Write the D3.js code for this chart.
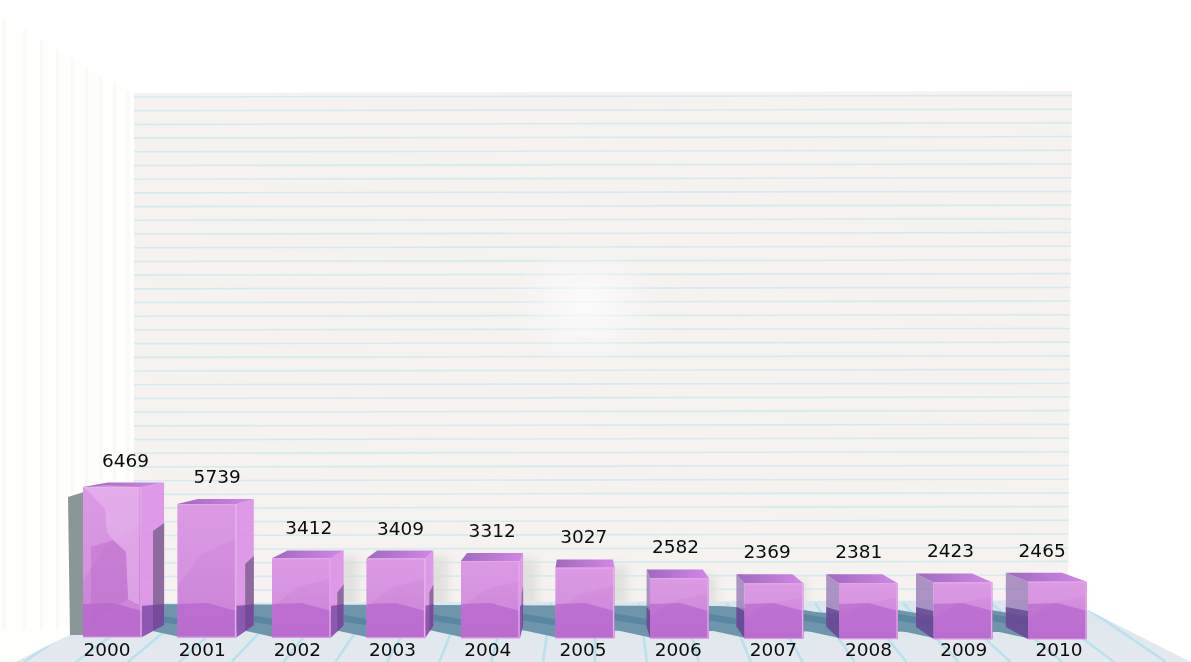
<!DOCTYPE html>
<html>
<head>
<meta charset="utf-8">
<script src="https://cdn.jsdelivr.net/npm/d3@7"></script>
<style>
  html, body { margin: 0; padding: 0; background: #fff; overflow: hidden; }
  text { font-family: "DejaVu Sans", sans-serif; font-size: 18.5px; fill: #0c0c0c; }
  filter { color-interpolation-filters: sRGB; }
</style>
</head>
<body>
<svg id="chart" width="1191" height="662"></svg>
<script>
//DATA
const years = [2000, 2001, 2002, 2003, 2004, 2005, 2006, 2007, 2008, 2009, 2010];
const values = [6469, 5739, 3412, 3409, 3312, 3027, 2582, 2369, 2381, 2423, 2465];

//SET CONSTANTS
const vanish = {x: 583, y: 400};
const depth = 0.05;
const barWidth = 59;
const wallTop = 92;
const floorBack = 603;

var xScale = d3.scaleLinear().domain([2000, 2010]).range([83, 1028]);
var labelScale = d3.scaleLinear().domain([2000, 2010]).range([107, 1059]);
var heightScale = d3.scaleLinear().domain([0, 6469]).range([0, 150]);
var baseScale = d3.scaleLinear().domain([2000, 2010]).range([637, 639]);
var wallScale = d3.scaleLinear().domain([0, 37]).range([97, 604]);
var sideScale = d3.scalePow().exponent(0.86).domain([0, 8]).range([4, 128]);

//push a point back toward the vanishing point
function back(p) {
  return [p[0] + depth * (vanish.x - p[0]), p[1] + depth * (vanish.y - p[1])];
}
function poly(p) {
  return p.map((d) => d[0].toFixed(1) + "," + d[1].toFixed(1)).join(" ");
}

var chart = d3.select("#chart");
var defs = chart.append("defs");

defs.append("filter").attr("id", "soft")
  .append("feGaussianBlur").attr("stdDeviation", 0.55);
defs.append("filter").attr("id", "roomSoft")
  .attr("x", 0).attr("y", 0).attr("width", 1).attr("height", 1)
  .append("feGaussianBlur").attr("stdDeviation", 0.7);
defs.append("filter").attr("id", "blur")
  .attr("x", "-50%").attr("width", "200%")
  .append("feGaussianBlur").attr("stdDeviation", 5);

var glow = defs.append("radialGradient").attr("id", "glow");
glow.append("stop").attr("offset", "0%").attr("stop-color", "#fff").attr("stop-opacity", 0.7);
glow.append("stop").attr("offset", "100%").attr("stop-color", "#fff").attr("stop-opacity", 0);

var frontGrad = defs.append("linearGradient").attr("id", "front")
  .attr("x1", 0).attr("y1", 0).attr("x2", 0).attr("y2", 1);
frontGrad.append("stop").attr("offset", "0%").attr("stop-color", "#d994e2");
frontGrad.append("stop").attr("offset", "100%").attr("stop-color", "#c983d6");

var topGrad = defs.append("linearGradient").attr("id", "topFace");
topGrad.append("stop").attr("offset", "0%").attr("stop-color", "#9f69bf");
topGrad.append("stop").attr("offset", "100%").attr("stop-color", "#d387e6");

var floorGrad = defs.append("linearGradient").attr("id", "floor")
  .attr("x1", 0).attr("y1", 0).attr("x2", 0).attr("y2", 1);
floorGrad.append("stop").attr("offset", "0%").attr("stop-color", "#dbe6ec");
floorGrad.append("stop").attr("offset", "100%").attr("stop-color", "#e4e9ef");

defs.append("clipPath").attr("id", "floorClip").append("polygon")
  .attr("points", poly([[134, floorBack], [1068, floorBack - 3], [1191, 662], [15, 662]]));
defs.append("clipPath").attr("id", "wallClip").append("polygon")
  .attr("points", poly([[134, wallTop + 1], [1072, wallTop - 1], [1068, floorBack - 3], [134, floorBack]]));

var room = chart.append("g").attr("filter", "url(#roomSoft)");

//left wall
room.append("polygon")
  .attr("points", poly([[0, 14], [134, 93], [134, floorBack], [15, 662], [0, 662]]))
  .attr("fill", "#fffefc");
room.selectAll(".wallLine").data(d3.range(0, 9)).enter().append("line")
  .attr("x1", (d) => sideScale(d))
  .attr("x2", (d) => sideScale(d))
  .attr("y1", (d) => 16 + 0.59 * sideScale(d))
  .attr("y2", 630)
  .attr("stroke", "#f8faf8")
  .attr("stroke-width", 3);

//back wall
room.append("polygon")
  .attr("points", poly([[134, wallTop + 1], [1072, wallTop - 1], [1068, floorBack - 3], [134, floorBack]]))
  .attr("fill", "#f5f2f0");
room.append("g").attr("clip-path", "url(#wallClip)")
  .selectAll("line").data(d3.range(0, 38)).enter().append("line")
  .attr("x1", 134)
  .attr("x2", 1072)
  .attr("y1", (d) => wallScale(d))
  .attr("y2", (d) => wallScale(d) - 1.5)
  .attr("stroke", "#d6ebf0")
  .attr("stroke-width", 1.6);
room.append("ellipse")
  .attr("cx", 585).attr("cy", 305).attr("rx", 75).attr("ry", 65)
  .attr("fill", "url(#glow)");

//soft bar shadows on the wall
room.append("g").attr("clip-path", "url(#wallClip)").attr("filter", "url(#blur)")
  .selectAll("rect").data(years.slice(2, 8)).enter().append("rect")
  .attr("x", (d) => back([xScale(d) + barWidth, 0])[0] - 8)
  .attr("y", (d, i) => baseScale(d) - heightScale(values[i + 2]) - 2)
  .attr("width", 22)
  .attr("height", (d, i) => heightScale(values[i + 2]) - 20)
  .attr("fill", "#d8d8d6")
  .attr("opacity", 0.7);

//floor
var floor = room.append("g");
floor.append("polygon")
  .attr("points", poly([[134, floorBack], [1068, floorBack - 3], [1191, 662], [15, 662]]))
  .attr("fill", "url(#floor)");
floor.append("g").attr("clip-path", "url(#floorClip)")
  .selectAll("line").data(d3.range(-14, 15)).enter().append("line")
  .attr("x1", (d) => vanish.x + 12 + d * 44)
  .attr("y1", floorBack)
  .attr("x2", (d) => vanish.x + 12 + d * 44 * 1.18)
  .attr("y2", 662)
  .attr("stroke", "#b9e2ee")
  .attr("stroke-width", 2.6);

//shadow band along the foot of the wall
floor.append("polygon").attr("clip-path", "url(#floorClip)")
  .attr("points", poly([[134, floorBack + 1], [720, floorBack + 3], [810, floorBack + 9], [1010, floorBack + 19], [1010, floorBack + 29], [134, floorBack + 26]]))
  .attr("fill", "#6f95ad");

//shadow cast by each bar onto the floor
var shadows = floor.append("g").attr("clip-path", "url(#floorClip)");
years.slice(0, 10).forEach(function(y) {
  let x = xScale(y);
  let b = baseScale(y);
  shadows.append("polygon")
    .attr("points", poly([[x + barWidth - 8, b - 30], [x + barWidth + 38, b - 22], [x + barWidth + 38, b], [x + barWidth - 8, b - 10]]))
    .attr("fill", "#6f95ad");
  shadows.append("polygon")
    .attr("points", poly([[x + barWidth - 2, b - 25], [x + barWidth + 38, b - 18], [x + barWidth + 38, b - 12], [x + barWidth - 2, b - 18]]))
    .attr("fill", "#5a86a1");
});

//grey panel behind the tallest bar
var tallX = xScale(years[0]);
var tallBase = baseScale(years[0]);
room.append("polygon")
  .attr("points", poly([
    [tallX - 15, tallBase - heightScale(values[0]) + 10],
    [tallX + 4, tallBase - heightScale(values[0]) + 4],
    [tallX + 4, tallBase - 2],
    [tallX - 13, tallBase - 2]]))
  .attr("fill", "#8b9698");

//BARS
var bars = chart.append("g").attr("filter", "url(#soft)");

years.forEach(function(y, i) {
  let g = bars.append("g").attr("class", "bar");
  let x0 = xScale(y);
  let x1 = x0 + barWidth;
  let base = baseScale(y);
  let top = base - heightScale(values[i]);

  let ftl = [x0, top], ftr = [x1, top], fbl = [x0, base], fbr = [x1, base];
  let btl = back(ftl), btr = back(ftr), bbl = back(fbl), bbr = back(fbr);
  let rightOut = btr[0] > x1;
  let leftOut = btl[0] < x0;

  //side faces
  g.append("polygon").attr("points", poly([ftr, btr, bbr, fbr]))
    .attr("fill", rightOut ? "#dc94e6" : "#cf90dc")
    .attr("opacity", rightOut ? 0.95 : 0.35);
  g.append("polygon").attr("points", poly([ftl, btl, bbl, fbl]))
    .attr("fill", leftOut ? "#9a7ab8" : "#d7a0e2")
    .attr("opacity", leftOut ? 0.8 : 0.3);

  //darker part of the side faces
  if (rightOut) {
    let sh = heightScale(values[i]) * (i == 0 ? 0.68 : 0.52);
    g.append("polygon")
      .attr("points", poly([
        [(x1 + btr[0]) / 2, bbr[1] - sh + 8],
        [btr[0], bbr[1] - sh],
        bbr,
        [(x1 + btr[0]) / 2, base - 6]]))
      .attr("fill", "#8e6a9e");
    g.append("polygon")
      .attr("points", poly([[x1, floorBack + 3], [bbr[0], floorBack + 1], bbr, fbr]))
      .attr("fill", "#6d3f9a")
      .attr("opacity", 0.7);
  }
  if (leftOut) {
    g.append("polygon")
      .attr("points", poly([[x0, floorBack + 8], [bbl[0], floorBack + 4], bbl, fbl]))
      .attr("fill", "#4c2f80")
      .attr("opacity", 0.6);
  }

  //top face
  g.append("polygon").attr("points", poly([ftl, btl, btr, ftr]))
    .attr("fill", "url(#topFace)");

  //front face
  g.append("rect")
    .attr("x", x0).attr("y", top)
    .attr("width", barWidth).attr("height", base - top)
    .attr("fill", "url(#front)");

  //lighter sheen on the upper part
  g.append("polygon")
    .attr("points", poly([
      [x0, top],
      [x1, top],
      [x1, top + (base - top) * 0.25],
      [x0 + barWidth * 0.4, top + (base - top) * 0.38],
      [x0, top + (base - top) * 0.62]]))
    .attr("fill", "#e3a8ea")
    .attr("opacity", 0.28);

  //darker part where the floor shows through
  g.append("polygon")
    .attr("points", poly([[x0, floorBack + 1], [x0 + barWidth * 0.5, floorBack], [x1, floorBack + 8], fbr, fbl]))
    .attr("fill", "#a956c6")
    .attr("opacity", 0.5);

  //edges
  g.append("line")
    .attr("x1", x1 - 1).attr("x2", x1 - 1).attr("y1", top).attr("y2", base)
    .attr("stroke", "#e4aeea").attr("stroke-width", 1.2);
  g.append("line")
    .attr("x1", x0).attr("x2", x1).attr("y1", top + 0.5).attr("y2", top + 0.5)
    .attr("stroke", "#e2a8e8").attr("stroke-width", 1);
  g.append("line")
    .attr("x1", x0).attr("x2", x1).attr("y1", base).attr("y2", base)
    .attr("stroke", "#d898e2").attr("stroke-width", 1.2);
});

//extra reflections in the tallest bar
bars.append("polygon")
  .attr("points", poly([
    [tallX, tallBase - 150],
    [tallX + 24, tallBase - 152],
    [tallX + 56, tallBase - 150],
    [tallX + 56, tallBase - 32],
    [tallX + 45, tallBase - 38],
    [tallX + 43, tallBase - 85],
    [tallX + 30, tallBase - 97],
    [tallX + 24, tallBase - 105],
    [tallX + 22, tallBase - 128],
    [tallX + 8, tallBase - 143]]))
  .attr("fill", "#eec0f2")
  .attr("opacity", 0.45);
bars.append("polygon")
  .attr("points", poly([
    [tallX + 8, tallBase - 90],
    [tallX + 30, tallBase - 97],
    [tallX + 43, tallBase - 85],
    [tallX + 45, tallBase - 38],
    [tallX + 8, tallBase - 14]]))
  .attr("fill", "#b866c8")
  .attr("opacity", 0.4);

//TEXT
chart.selectAll(".value").data(years).enter().append("text")
  .attr("class", "value")
  .attr("text-anchor", "middle")
  .attr("x", (d) => xScale(d) + barWidth / 2 + (vanish.x - xScale(d)) * 0.03 - 2)
  .attr("y", (d, i) => back([0, baseScale(d) - heightScale(values[i])])[1] - 16)
  .text((d, i) => values[i]);

chart.selectAll(".year").data(years).enter().append("text")
  .attr("class", "year")
  .attr("text-anchor", "middle")
  .attr("x", (d) => labelScale(d))
  .attr("y", 656)
  .text((d) => d);
</script>
</body>
</html>
